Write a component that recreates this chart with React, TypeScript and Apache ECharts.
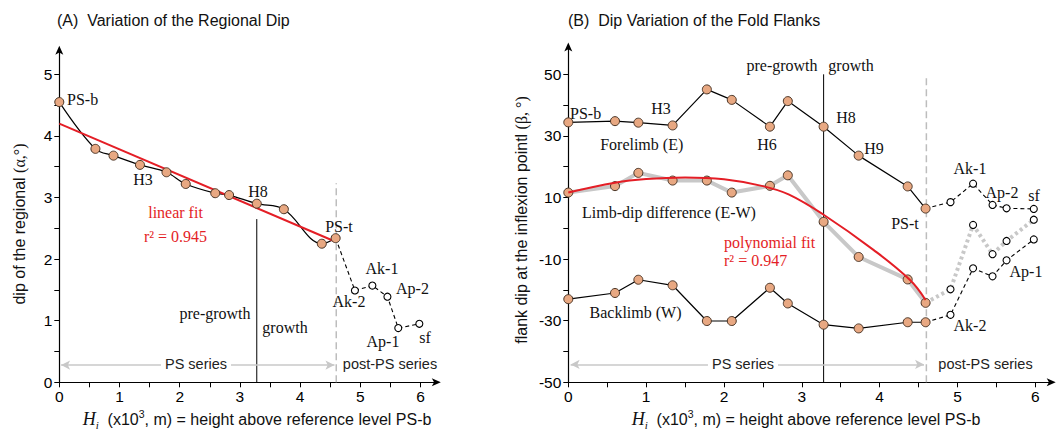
import React, { useEffect, useRef } from "react";
import * as echarts from "echarts";

// Heights of horizons (x10^3 m above PS-b)
const hPS = [0, 0.6, 0.9, 1.34, 1.78, 2.1, 2.59, 2.82, 3.28, 3.73, 4.36, 4.59];
const hPost = [4.91, 5.2, 5.45, 5.63, 5.98];

// (A) regional dip
const regionalPS = [4.55, 3.79, 3.68, 3.53, 3.41, 3.22, 3.07, 3.04, 2.9, 2.81, 2.25, 2.34];
const regionalPost = [1.49, 1.57, 1.39, 0.88, 0.95];
const linearFitH = [0, 4.57];
const linearFitY = [4.2, 2.29];

// (B) flank dips
const forelimbPS = [34.4, 34.8, 34.3, 33.4, 45.1, 41.7, 33.0, 41.3, 33.0, 23.6, 13.6, 6.4];
const forelimbPost = [8.5, 14.5, 7.6, 6.5, 6.3];
const backlimbPS = [-23.0, -21.0, -16.7, -18.5, -30.1, -30.1, -19.3, -24.4, -31.3, -32.5, -30.5, -30.5];
const backlimbPost = [-28.1, -13.0, -15.6, -10.4, -3.6];
const limbDiffPS = [11.6, 13.7, 18.0, 15.5, 15.5, 11.6, 13.8, 17.2, 2.1, -9.3, -16.6, -24.2];
const limbDiffPost = [-19.8, 1.1, -8.4, -4.1, 2.8];
const polyFitH = [0, 0.6, 1.0, 1.5, 2.0, 2.5, 2.83, 3.28, 3.92, 4.39, 4.59];
const polyFitY = [11.6, 14.8, 16.0, 16.5, 15.9, 13.7, 11.0, 4.4, -7.0, -16.8, -23.3];

// boundaries
const growthH = 3.28;
const psTopH = 4.6;

// tick values
const xLabels = [0, 1, 2, 3, 4, 5, 6];
const xTicks = [0, 0.5, 1, 1.5, 2, 2.5, 3, 3.5, 4, 4.5, 5, 5.5, 6];
const yLabelsA = [0, 1, 2, 3, 4, 5];
const yTicksA = [0, 0.5, 1, 1.5, 2, 2.5, 3, 3.5, 4, 4.5, 5];
const yLabelsB = [-50, -30, -10, 10, 30, 50];
const yTicksB = [-50, -40, -30, -20, -10, 0, 10, 20, 30, 40, 50];

const zip = (xs: number[], ys: number[]) => xs.map((x, i) => [x, ys[i]]);

const SANS = "Liberation Sans";
const SERIF = "Liberation Serif";
const ORANGE = "#E8A882";
const MBORDER = "#4a3526";
const RED = "#E41E26";
const GRAY = "#c8c8c8";

function axisX(grid: number, max: number): any {
  return {
    type: "value",
    gridIndex: grid,
    min: 0,
    max,
    axisLine: {
      onZero: false,
      symbol: ["none", "arrow"],
      symbolSize: [6, 9],
      symbolOffset: [0, 4],
      lineStyle: { color: "#000", width: 1.2 },
    },
    axisTick: { customValues: xTicks, length: 5, lineStyle: { color: "#000", width: 1 } },
    axisLabel: { customValues: xLabels, fontSize: 15.5, fontFamily: SANS, color: "#000", margin: 6 },
    splitLine: { show: false },
  };
}

function axisY(grid: number, min: number, max: number, labels: number[], ticks: number[]): any {
  return {
    type: "value",
    gridIndex: grid,
    min,
    max,
    axisLine: {
      onZero: false,
      symbol: ["none", "arrow"],
      symbolSize: [6, 9],
      symbolOffset: [0, 4],
      lineStyle: { color: "#000", width: 1.2 },
    },
    axisTick: { customValues: ticks, length: 5, lineStyle: { color: "#000", width: 1 } },
    axisLabel: { customValues: labels, fontSize: 15.5, fontFamily: SANS, color: "#000", margin: 7 },
    splitLine: { show: false },
  };
}

const psMarker = {
  symbol: "circle",
  symbolSize: 9,
  itemStyle: { color: ORANGE, borderColor: MBORDER, borderWidth: 1 },
};
const openMarker = {
  symbol: "circle",
  symbolSize: 7,
  itemStyle: { color: "#fff", borderColor: "#000", borderWidth: 1.1 },
};

function postData(startX: number, startY: number, xs: number[], ys: number[]) {
  return [{ value: [startX, startY], symbol: "none" }, ...zip(xs, ys)];
}

function arrowSeries(grid: number, y: number): any {
  return {
    type: "line",
    xAxisIndex: grid,
    yAxisIndex: grid,
    data: [],
    silent: true,
    markLine: {
      silent: true,
      symbol: ["arrow", "arrow"],
      symbolSize: [7, 9],
      lineStyle: { color: GRAY, width: 1.5, type: "solid" },
      label: { show: false },
      data: [[{ coord: [0.03, y] }, { coord: [psTopH - 0.03, y] }]],
    },
  };
}

function txt(x: number, y: number, text: string, o: any = {}): any {
  return {
    type: "text",
    x,
    y,
    z: 100,
    style: {
      text,
      fill: o.fill || "#111",
      fontSize: o.size || 16,
      fontFamily: o.family || SERIF,
      align: o.align || "center",
      verticalAlign: "middle",
      backgroundColor: o.bg,
      padding: o.pad,
    },
  };
}

export default function App() {
  const ref = useRef<HTMLDivElement>(null);
  useEffect(() => {
    if (!ref.current) return;
    const chart = echarts.init(ref.current, null, { renderer: "svg" });
    const xTitleRich = {
      h: { fontFamily: SERIF, fontStyle: "italic", fontSize: 18, fill: "#111" },
      sub: { fontFamily: SERIF, fontStyle: "italic", fontSize: 11, fill: "#111", verticalAlign: "bottom", lineHeight: 22 },
      s: { fontFamily: SANS, fontSize: 16, fill: "#111" },
      sup: { fontFamily: SANS, fontSize: 10.5, fill: "#111", verticalAlign: "top", lineHeight: 22 },
    };
    const xTitle = (x: number) => ({
      type: "text",
      x,
      y: 419,
      z: 100,
      style: {
        text: "{h|H}{sub|i}{s|  (x10}{sup|3}{s|, m) = height above reference level PS-b}",
        rich: xTitleRich,
        align: "center",
        verticalAlign: "middle",
      },
    });
    const yTitle = (x: number, y: number, a: string, b: string) => ({
      type: "text",
      x,
      y,
      rotation: Math.PI / 2,
      z: 100,
      style: {
        text: `{s|${a}}{g|${b}}`,
        rich: {
          s: { fontFamily: SANS, fontSize: 16, fill: "#111" },
          g: { fontFamily: SERIF, fontSize: 16, fill: "#111" },
        },
        align: "center",
        verticalAlign: "middle",
      },
    });

    const option: any = {
      animation: false,
      backgroundColor: "#fff",
      grid: [
        { left: 59.3, top: 49.7, width: 377.5, height: 332.6 },
        { left: 568.3, top: 46.6, width: 483.4, height: 335.7 },
      ],
      xAxis: [axisX(0, 6.27), axisX(1, 6.21)],
      yAxis: [axisY(0, 0, 5.4, yLabelsA, yTicksA), axisY(1, -50, 59, yLabelsB, yTicksB)],
      series: [
        // ----- (A) -----
        {
          type: "line", xAxisIndex: 0, yAxisIndex: 0, symbol: "none", z: 1,
          data: [[growthH, 0], [growthH, 2.65]],
          lineStyle: { color: "#000", width: 1 },
        },
        {
          type: "line", xAxisIndex: 0, yAxisIndex: 0, symbol: "none", z: 1,
          data: [[psTopH, 0], [psTopH, 3.23]],
          lineStyle: { color: "#bdbdbd", width: 1.5, type: [7, 4] },
        },
        arrowSeries(0, 0.28),
        {
          type: "line", xAxisIndex: 0, yAxisIndex: 0, z: 3,
          data: postData(hPS[hPS.length - 1], regionalPS[regionalPS.length - 1], hPost, regionalPost),
          lineStyle: { color: "#000", width: 1.1, type: [4, 3] },
          ...openMarker,
        },
        {
          type: "line", xAxisIndex: 0, yAxisIndex: 0, z: 4, smooth: 0.35,
          data: zip(hPS, regionalPS),
          lineStyle: { color: "#000", width: 1.2 },
          ...psMarker,
        },
        {
          type: "line", xAxisIndex: 0, yAxisIndex: 0, z: 4, symbol: "none",
          data: zip(linearFitH, linearFitY),
          lineStyle: { color: RED, width: 2 },
        },
        // ----- (B) -----
        {
          type: "line", xAxisIndex: 1, yAxisIndex: 1, symbol: "none", z: 1,
          data: [[growthH, -50], [growthH, 50]],
          lineStyle: { color: "#000", width: 1 },
        },
        {
          type: "line", xAxisIndex: 1, yAxisIndex: 1, symbol: "none", z: 1,
          data: [[psTopH, -50], [psTopH, 50]],
          lineStyle: { color: "#bdbdbd", width: 1.5, type: [7, 4] },
        },
        arrowSeries(1, -44.2),
        {
          type: "line", xAxisIndex: 1, yAxisIndex: 1, z: 2,
          data: postData(hPS[hPS.length - 1], limbDiffPS[limbDiffPS.length - 1], hPost, limbDiffPost),
          lineStyle: { color: GRAY, width: 4, type: [3, 3] },
          ...openMarker,
        },
        {
          type: "line", xAxisIndex: 1, yAxisIndex: 1, z: 2,
          data: zip(hPS, limbDiffPS),
          lineStyle: { color: GRAY, width: 4 },
          ...psMarker,
        },
        {
          type: "line", xAxisIndex: 1, yAxisIndex: 1, z: 3, symbol: "none", smooth: 0.4,
          data: zip(polyFitH, polyFitY),
          lineStyle: { color: RED, width: 2 },
        },
        {
          type: "line", xAxisIndex: 1, yAxisIndex: 1, z: 3,
          data: postData(hPS[hPS.length - 1], forelimbPS[forelimbPS.length - 1], hPost, forelimbPost),
          lineStyle: { color: "#000", width: 1.1, type: [4, 3] },
          ...openMarker,
        },
        {
          type: "line", xAxisIndex: 1, yAxisIndex: 1, z: 3,
          data: postData(hPS[hPS.length - 1], backlimbPS[backlimbPS.length - 1], hPost, backlimbPost),
          lineStyle: { color: "#000", width: 1.1, type: [4, 3] },
          ...openMarker,
        },
        {
          type: "line", xAxisIndex: 1, yAxisIndex: 1, z: 4,
          data: zip(hPS, forelimbPS),
          lineStyle: { color: "#000", width: 1.2 },
          ...psMarker,
        },
        {
          type: "line", xAxisIndex: 1, yAxisIndex: 1, z: 4,
          data: zip(hPS, backlimbPS),
          lineStyle: { color: "#000", width: 1.2 },
          ...psMarker,
        },
      ],
      graphic: [
        // titles
        txt(57, 20, "(A)  Variation of the Regional Dip", { family: SANS, size: 16, align: "left" }),
        txt(568, 20, "(B)  Dip Variation of the Fold Flanks", { family: SANS, size: 16, align: "left" }),
        yTitle(19, 224, "dip of the regional ", "(α,°)"),
        yTitle(521, 220, "flank dip at the inflexion pointl ", "(β, °)"),
        xTitle(257),
        xTitle(806),
        // (A) labels
        txt(67, 99, "PS-b", { align: "left" }),
        txt(143, 179, "H3"),
        txt(258, 191, "H8"),
        txt(175.5, 212, "linear fit", { fill: RED }),
        txt(175.5, 236, "r² = 0.945", { fill: RED }),
        txt(339, 226, "PS-t"),
        txt(382, 268, "Ak-1"),
        txt(349, 301, "Ak-2"),
        txt(412.5, 288, "Ap-2"),
        txt(383, 341, "Ap-1"),
        txt(425, 337, "sf"),
        txt(215, 313, "pre-growth"),
        txt(285, 327, "growth"),
        txt(196, 364, "PS series", { family: SANS, size: 14.5, fill: "#222", bg: "#fff", pad: [0, 4] }),
        txt(390, 364, "post-PS series", { family: SANS, size: 14.5, fill: "#222" }),
        // (B) labels
        txt(570, 113, "PS-b", { align: "left" }),
        txt(661, 108, "H3"),
        txt(641.7, 144, "Forelimb (E)"),
        txt(767, 144, "H6"),
        txt(782, 65, "pre-growth"),
        txt(851, 65, "growth"),
        txt(846, 117, "H8"),
        txt(874, 148, "H9"),
        txt(970, 168, "Ak-1"),
        txt(1002, 192, "Ap-2"),
        txt(1034, 195, "sf"),
        txt(669, 212, "Limb-dip difference (E-W)"),
        txt(905, 223, "PS-t"),
        txt(724, 242, "polynomial fit", { fill: RED, align: "left" }),
        txt(724, 260, "r² = 0.947", { fill: RED, align: "left" }),
        txt(1026, 271, "Ap-1"),
        txt(635.5, 312, "Backlimb (W)"),
        txt(970, 325, "Ak-2"),
        txt(743, 364, "PS series", { family: SANS, size: 14.5, fill: "#222", bg: "#fff", pad: [0, 4] }),
        txt(985.5, 364, "post-PS series", { family: SANS, size: 14.5, fill: "#222" }),
      ],
    };
    chart.setOption(option);
    return () => chart.dispose();
  }, []);
  return (
    <div
      ref={ref}
      style={{ position: "fixed", left: 0, top: 0, width: 1064, height: 437, background: "#fff" }}
    />
  );
}
